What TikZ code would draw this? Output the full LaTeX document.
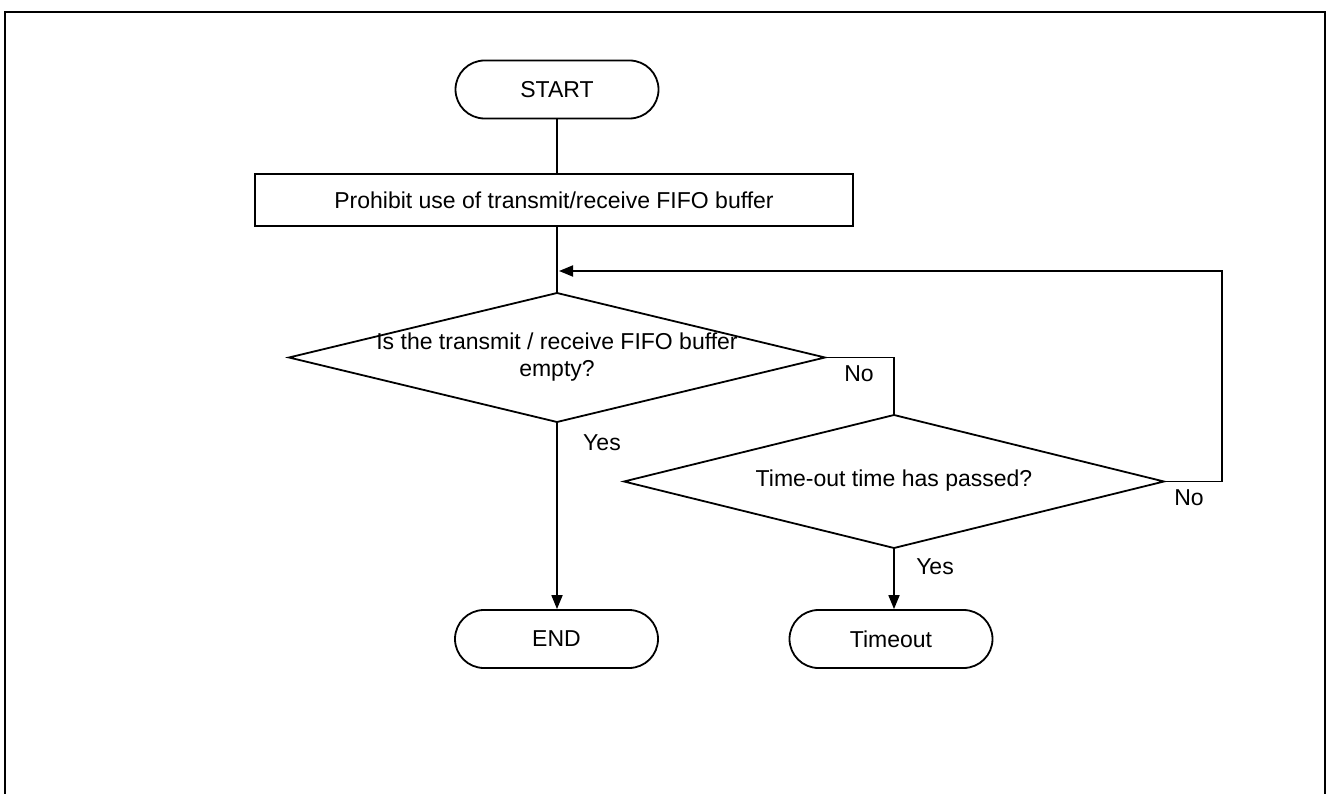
\documentclass[tikz,border=0pt]{standalone}
\usepackage{fontspec}
\setmainfont{Liberation Sans}
\usetikzlibrary{shapes.geometric,arrows.meta}
\begin{document}
\begin{tikzpicture}[x=1pt,y=-1pt,
  every node/.style={font=\fontsize{23}{27}\selectfont},
  line/.style={line width=1.8pt},
  arr/.style={line width=1.8pt,-{Triangle[length=14pt,width=11pt]}},
  term/.style={draw,line width=1.8pt,rectangle,rounded corners=29pt,minimum width=203pt,minimum height=58pt,inner sep=0pt},
  proc/.style={draw,line width=1.8pt,rectangle,minimum width=598pt,minimum height=52pt,inner sep=0pt},
  decision/.style={draw,line width=1.8pt,diamond,inner sep=0pt,outer sep=0pt},
  lbl/.style={inner sep=0pt}]
\useasboundingbox (0,0) rectangle (1328,794);
% frame
\draw[line width=2.5pt] (5,800) -- (5,12) -- (1325,12) -- (1325,800);
% nodes
\node[term] (start) at (557,89.5) {START};
\node[proc] (prohib) at (554,200) {Prohibit use of transmit/receive FIFO buffer};
\node[decision,minimum width=536pt,minimum height=129pt] (d1) at (557,357.5) {};
\node[lbl,align=center] (d1t) at (557,357) {Is the transmit / receive FIFO buffer\\empty?};
\node[decision,minimum width=540pt,minimum height=133pt] (d2) at (894,481.5) {};
\node[lbl] (d2t) at (894,481) {Time-out time has passed?};
\node[term] (endn) at (556.5,639) {END};
\node[term] (tmo) at (891,639) {Timeout};
% labels
\node[lbl] (no1) at (859,374) {No};
\node[lbl] (yes1) at (602,443) {Yes};
\node[lbl] (no2) at (1189,498) {No};
\node[lbl] (yes2) at (935,567) {Yes};
\coordinate (c1) at (894,357.5);
\coordinate (c2) at (1222,481.5);
\coordinate (c3) at (1222,271);
\coordinate (c4) at (559,271);
% connectors
\draw[line] (start.south) -- (start.south |- prohib.north);
\draw[line] (prohib.south -| d1.north) -- (d1.north);
\draw[line] (d1.east) -- (c1) -- (d2.north);
\draw[arr] (d2.east) -- (c2) -- (c3) -- (c4);
\draw[arr] (d1.south) -- (d1.south |- endn.north);
\draw[arr] (d2.south) -- (d2.south |- tmo.north);
\end{tikzpicture}
\end{document}
